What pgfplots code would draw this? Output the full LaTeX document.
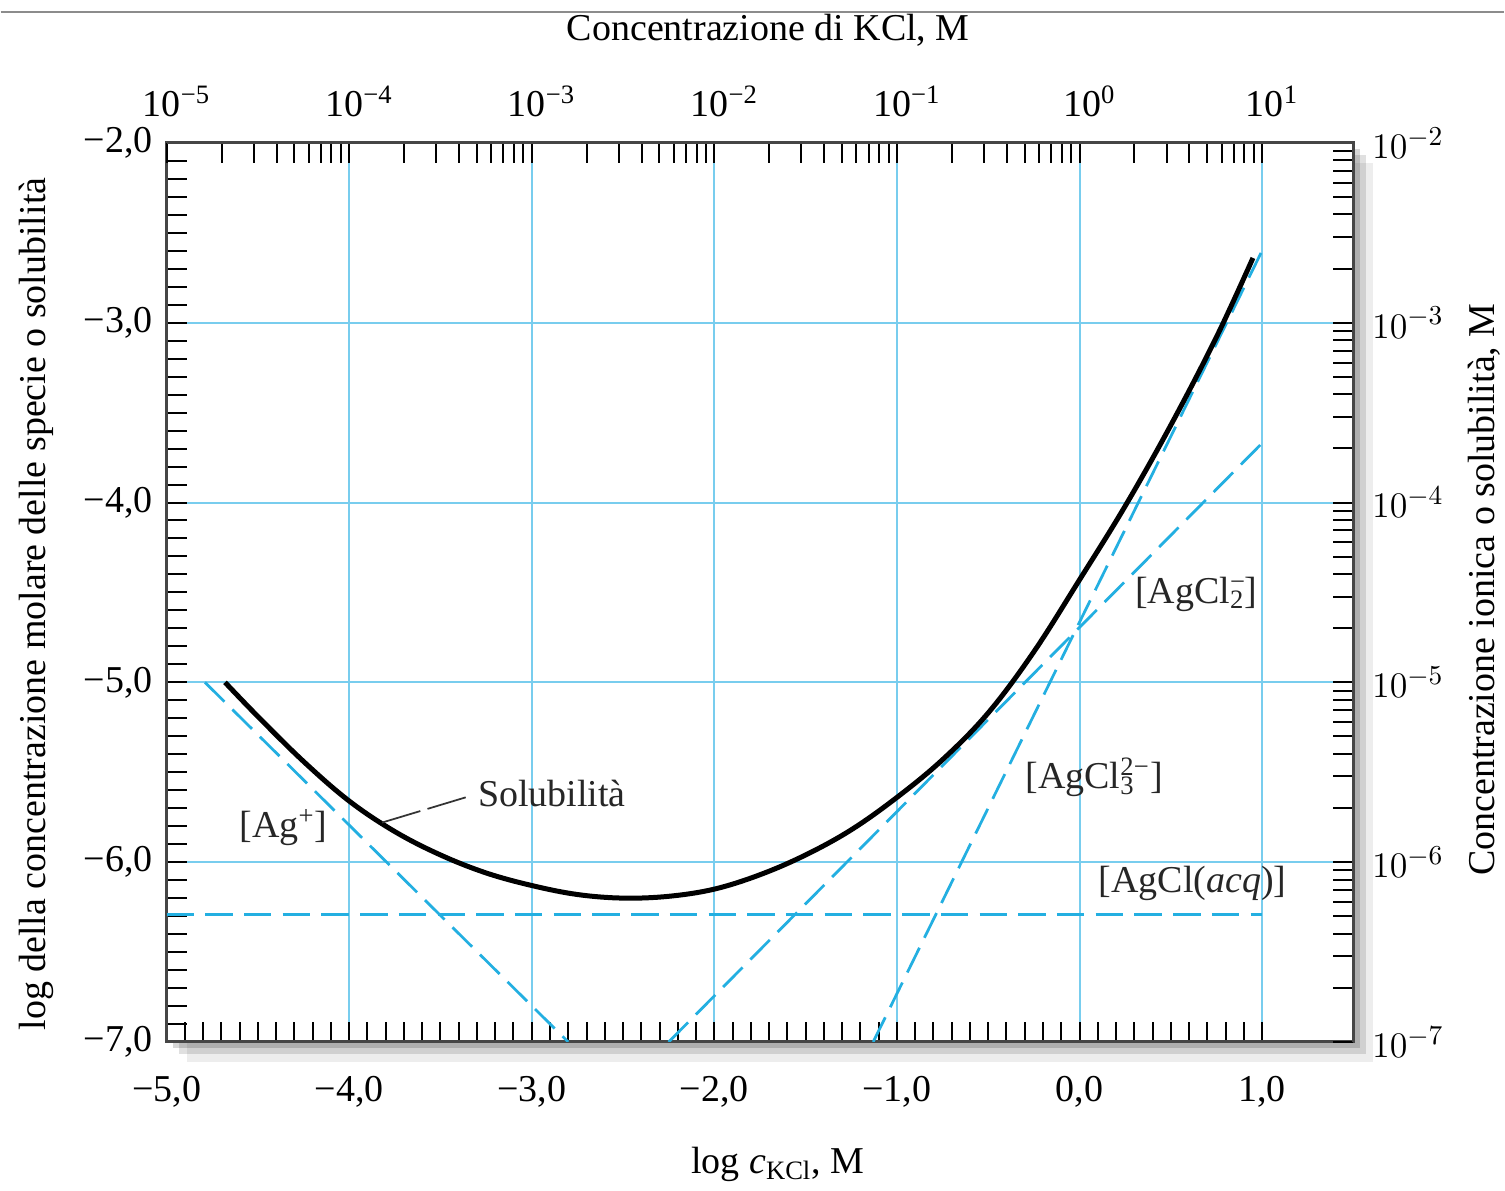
\documentclass[border=0pt]{standalone}
\usepackage{fontspec}
\setmainfont{Liberation Serif}
\usepackage{pgfplots}
\pgfplotsset{compat=1.18}
\usetikzlibrary{shadows}

\definecolor{gridblue}{RGB}{120,205,238}
\definecolor{dashblue}{RGB}{35,175,225}
\definecolor{framegray}{RGB}{70,70,70}
\newcommand\fs{\fontsize{15.2}{18}\selectfont}

\begin{document}
\begin{tikzpicture}
\begin{axis}[
    scale only axis, width=475.2pt, height=360pt,
    xmin=-5, xmax=1.5, ymin=-7, ymax=-2,
    xtick={-5,-4,-3,-2,-1,0,1},
    ytick={-7,-6,-5,-4,-3,-2},
    minor xtick={-4.9,-4.8,...,0.95},
    minor ytick={-6.9,-6.8,...,-2.05},
    xticklabels={{−5,0},{−4,0},{−3,0},{−2,0},{−1,0},{0,0},{1,0}},
    yticklabels={{−7,0},{−6,0},{−5,0},{−4,0},{−3,0},{−2,0}},
    xtick pos=bottom, ytick pos=left,
    tick align=inside,
    major tick length=8pt, minor tick length=8pt,
    every tick/.style={black, line width=0.8pt},
    grid=major,
    major grid style={gridblue, line width=0.8pt},
    axis line style={framegray, line width=1.2pt},
    axis background/.style={fill=white,
        drop shadow={shadow xshift=2.5pt, shadow yshift=-2.5pt, fill=black, opacity=0.16},
        drop shadow={shadow xshift=5pt, shadow yshift=-5pt, fill=black, opacity=0.12},
        drop shadow={shadow xshift=8pt, shadow yshift=-8pt, fill=black, opacity=0.07}},
    tick label style={font=\fs},
    xticklabel style={yshift=-10pt},
    yticklabel style={xshift=-2pt},
    xlabel={log \textit{c}\textsubscript{KCl}, M},
    xlabel style={font=\fs, at={(axis description cs:0.515,-0.136)}, anchor=center},
    ylabel={log della concentrazione molare delle specie o solubilità},
    ylabel style={font=\fs, at={(axis description cs:-0.11,0.487)}, anchor=center},
]
\coordinate (SW) at (rel axis cs:0,0);
% [Ag+]
\addplot[dashblue, line width=1.1pt, dash pattern=on 11pt off 4.5pt] coordinates {(-4.79,-5.0) (-2.80,-7.0)};
% [AgCl(acq)]
\addplot[dashblue, line width=1.1pt, dash pattern=on 11pt off 4.5pt] coordinates {(-5.0,-6.29) (1.0,-6.29)};
% [AgCl2-]
\addplot[dashblue, line width=1.1pt, dash pattern=on 11pt off 4.5pt] coordinates {(-2.25,-7.0) (1.0,-3.67)};
% [AgCl3 2-]
\addplot[dashblue, line width=1.1pt, dash pattern=on 11pt off 4.5pt] coordinates {(-1.13,-7.0) (1.0,-2.60)};
% solubility
\addplot[black, line width=2pt, smooth, tension=0.6] coordinates {
    (-4.68,-5.00) (-4.50,-5.19) (-4.25,-5.44) (-4.00,-5.66) (-3.75,-5.83)
    (-3.50,-5.96) (-3.25,-6.06) (-3.00,-6.13) (-2.75,-6.18) (-2.50,-6.20)
    (-2.25,-6.19) (-2.00,-6.15) (-1.75,-6.07) (-1.50,-5.96) (-1.25,-5.82)
    (-1.00,-5.64) (-0.75,-5.43) (-0.50,-5.17) (-0.25,-4.83) (0.00,-4.43)
    (0.25,-4.02) (0.50,-3.57) (0.75,-3.08) (0.95,-2.64)
};
% leader
\addplot[black!80, line width=0.7pt, dash pattern=on 16pt off 3pt] coordinates {(-3.82,-5.78) (-3.33,-5.63)};
\node[font=\fs, text=black!85] at (axis cs:-4.36,-5.81) {[Ag\textsuperscript{+}]};
\node[font=\fs, text=black!85] at (axis cs:-2.89,-5.62) {Solubilità};
\node[font=\fs, text=black!85] at (axis cs:0.64,-4.51) {[AgCl\rlap{\textsuperscript{−}}\textsubscript{2}]};
\node[font=\fs, text=black!85] at (axis cs:0.08,-5.53) {[AgCl\makebox[0pt][l]{\textsubscript{3}}\textsuperscript{2−}]};
\node[font=\fs, text=black!85] at (axis cs:0.62,-6.12) {[AgCl(\textit{acq})]};
\end{axis}
\begin{axis}[
    scale only axis, width=475.2pt, height=360pt,
    xmode=log, ymode=log,
    xmin=1e-5, xmax=31.6228, ymin=1e-7, ymax=1e-2,
    axis x line*=top, axis y line*=right,
    axis line style={-, framegray, line width=1.2pt},
    tick align=inside,
    major tick length=8pt, minor tick length=8pt,
    every tick/.style={black, line width=0.8pt},
    xtick={1e-5,1e-4,1e-3,1e-2,1e-1,1,10},
    xticklabels={10\textsuperscript{−5},10\textsuperscript{−4},10\textsuperscript{−3},10\textsuperscript{−2},10\textsuperscript{−1},10\textsuperscript{0},10\textsuperscript{1}},
    minor xtick={2e-5,3e-5,4e-5,5e-5,6e-5,7e-5,8e-5,9e-5,
                 2e-4,3e-4,4e-4,5e-4,6e-4,7e-4,8e-4,9e-4,
                 2e-3,3e-3,4e-3,5e-3,6e-3,7e-3,8e-3,9e-3,
                 2e-2,3e-2,4e-2,5e-2,6e-2,7e-2,8e-2,9e-2,
                 0.2,0.3,0.4,0.5,0.6,0.7,0.8,0.9,
                 2,3,4,5,6,7,8,9},
    ytick={1e-7,1e-6,1e-5,1e-4,1e-3,1e-2},
    yticklabels={$10^{-7}$,$10^{-6}$,$10^{-5}$,$10^{-4}$,$10^{-3}$,$10^{-2}$},
    minor ytick={2e-7,3e-7,4e-7,5e-7,6e-7,7e-7,8e-7,9e-7,
                 2e-6,3e-6,4e-6,5e-6,6e-6,7e-6,8e-6,9e-6,
                 2e-5,3e-5,4e-5,5e-5,6e-5,7e-5,8e-5,9e-5,
                 2e-4,3e-4,4e-4,5e-4,6e-4,7e-4,8e-4,9e-4,
                 2e-3,3e-3,4e-3,5e-3,6e-3,7e-3,8e-3,9e-3},
    tick label style={font=\fs},
    xticklabel style={yshift=7pt, xshift=4pt},
    yticklabel style={xshift=4pt},
    xlabel={Concentrazione di KCl, M},
    xlabel style={font=\fs, at={(axis description cs:0.507,1.125)}, anchor=center},
    ylabel={Concentrazione ionica o solubilità, M},
    ylabel style={font=\fs, at={(axis description cs:1.11,0.503)}, anchor=center},
]
\end{axis}
\pgfresetboundingbox
\path ([xshift=-66.4pt, yshift=-59.6pt]SW) rectangle ([xshift=535.6pt, yshift=417.2pt]SW);
\draw[black!45, line width=0.6pt] ([xshift=-66.4pt, yshift=412.4pt]SW) -- ([xshift=535.6pt, yshift=412.4pt]SW);
\end{tikzpicture}
\end{document}
